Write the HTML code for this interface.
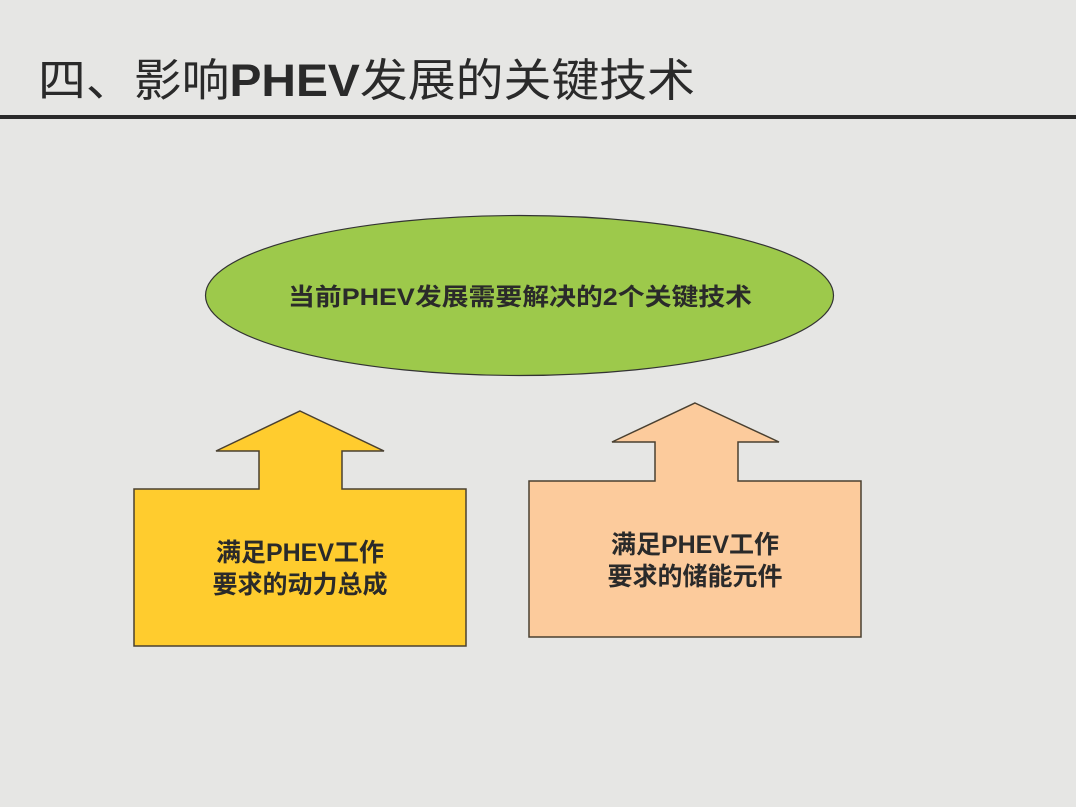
<!DOCTYPE html>
<html><head><meta charset="utf-8"><style>
body{margin:0;}
#c{position:relative;width:1076px;height:807px;background:#e6e6e4;overflow:hidden;font-family:"Liberation Sans","Noto Sans CJK SC",sans-serif;}
svg{position:absolute;left:0;top:0;}
</style></head><body><div id="c">
<svg width="1076" height="807" viewBox="0 0 1076 807">
<text x="38" y="96" font-size="45" fill="#2a2a2a" font-family="Liberation Sans,Noto Sans CJK SC,sans-serif" textLength="657" lengthAdjust="spacingAndGlyphs">四、影响<tspan font-weight="bold">PHEV</tspan>发展的关键技术</text>
<rect x="0" y="115" width="1076" height="4" fill="#2a2a2a"/>
<ellipse cx="519.5" cy="295.5" rx="314" ry="80" fill="#9dc94b" stroke="#333" stroke-width="1.2"/>
<text x="520" y="305" font-size="24" fill="#2a2a2a" text-anchor="middle" font-family="Liberation Sans,Noto Sans CJK SC,sans-serif" textLength="464" lengthAdjust="spacingAndGlyphs" font-weight="bold">当前PHEV发展需要解决的2个关键技术</text>
<polygon points="300,411 384,451 342,451 342,489 466,489 466,646 134,646 134,489 259,489 259,451 216,451" fill="#ffcc2e" stroke="#4a4030" stroke-width="1.5"/>
<polygon points="695,403 779,442 738,442 738,481 861,481 861,637 529,637 529,481 655,481 655,442 612,442" fill="#fccb9c" stroke="#4a4030" stroke-width="1.5"/>
<g font-size="25" fill="#2a2a2a" text-anchor="middle" font-weight="bold" font-family="Liberation Sans,Noto Sans CJK SC,sans-serif">
<text x="300" y="561">满足PHEV工作</text>
<text x="300" y="593">要求的动力总成</text>
<text x="695" y="553">满足PHEV工作</text>
<text x="695" y="585">要求的储能元件</text>
</g>
</svg>
</div></body></html>
